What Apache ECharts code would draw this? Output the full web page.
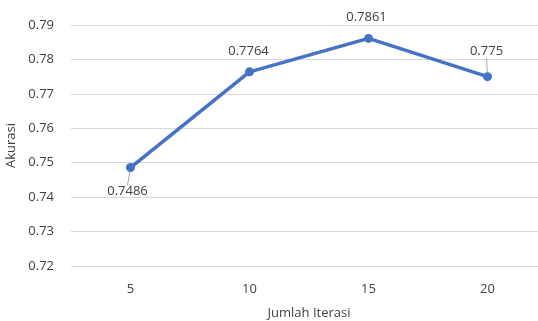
<!DOCTYPE html>
<html><head><meta charset="utf-8">
<script src="https://cdn.jsdelivr.net/npm/echarts@6/dist/echarts.min.js"></script>
<style>html,body{margin:0;padding:0;background:#fff}#c{width:538px;height:321px}</style>
</head><body><div id="c"></div>
<script>
const categories = ['5', '10', '15', '20'];
const akurasi = [0.7486, 0.7764, 0.7861, 0.775];
const labelText = ['0.7486', '0.7764', '0.7861', '0.775'];
const labelShift = [[-3, 24], [-1, -21], [-2, -21], [-1, -25]];
const showLeader = [true, false, false, true];

const chart = echarts.init(document.getElementById('c'));
const font = 'Open Sans, Noto Sans, sans-serif';
chart.setOption({
  animation: false,
  grid: { left: 71, top: 25, width: 476, height: 241, outerBoundsMode: 'none', containLabel: false },
  xAxis: {
    type: 'category', data: categories, boundaryGap: true,
    axisLine: { show: false }, axisTick: { show: false },
    axisLabel: { color: '#404040', fontSize: 13, fontFamily: font, margin: 17 },
    name: 'Jumlah Iterasi', nameLocation: 'middle', nameGap: 41,
    nameTextStyle: { color: '#404040', fontSize: 13, fontFamily: font }
  },
  yAxis: {
    type: 'value', min: 0.72, max: 0.79, interval: 0.01,
    axisLine: { show: false }, axisTick: { show: false },
    splitLine: { lineStyle: { color: '#d9d9d9', width: 1 } },
    axisLabel: { color: '#404040', fontSize: 13, fontFamily: font, margin: 17,
      formatter: v => v.toFixed(2) },
    name: 'Akurasi', nameLocation: 'middle', nameGap: 49, nameRotate: 90,
    nameTextStyle: { color: '#404040', fontSize: 13, fontFamily: font }
  },
  series: [{
    type: 'line',
    data: akurasi.map((v, i) => ({ value: v, labelLine: { show: showLeader[i] } })),
    symbol: 'circle', symbolSize: 9,
    lineStyle: { color: '#4472C4', width: 3.5 },
    itemStyle: { color: '#4472C4' },
    label: { show: true, position: 'inside', color: '#404040', fontSize: 13, fontFamily: font,
      formatter: p => labelText[p.dataIndex] },
    labelLine: { show: true, lineStyle: { color: '#a6a6a6', width: 1 } },
    labelLayout: p => ({ dx: labelShift[p.dataIndex][0], dy: labelShift[p.dataIndex][1] })
  }]
});
</script></body></html>
